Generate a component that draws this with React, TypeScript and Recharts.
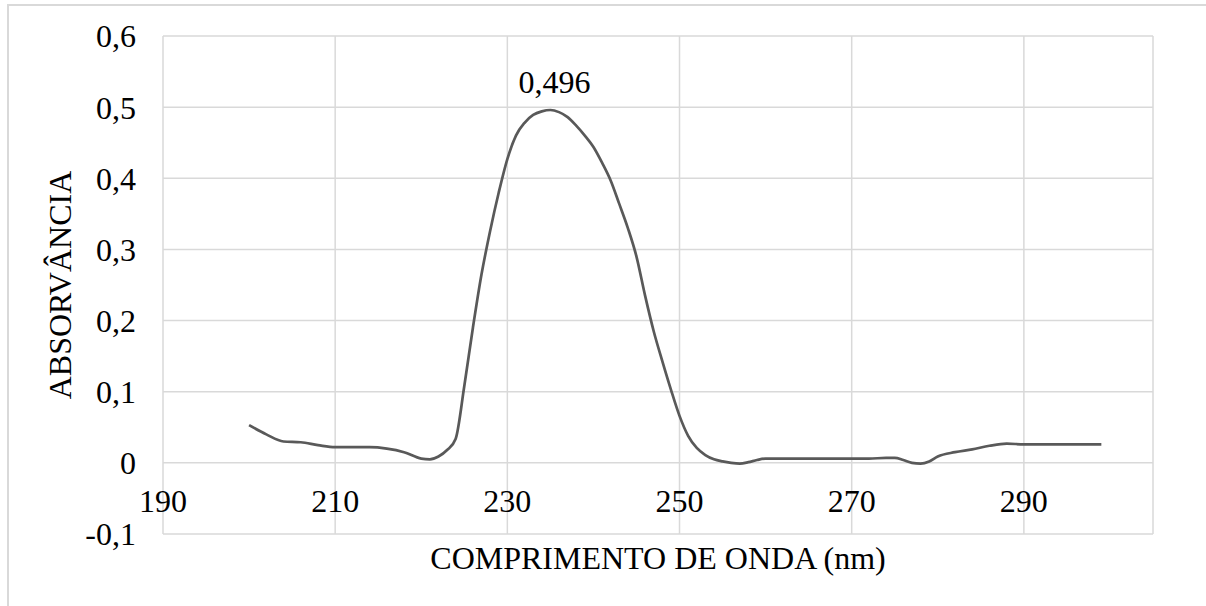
import { LineChart, Line, XAxis, YAxis, CartesianGrid, LabelList } from 'recharts';

const wavelengths = [
  200, 202, 204, 206, 208, 210, 212, 214, 216, 218, 220, 221, 222, 223, 224, 225, 226, 227, 228, 229,
  230, 231, 232, 233, 234, 235, 236, 237, 238, 239, 240, 241, 242, 243, 244, 245, 246, 247, 248, 249,
  250, 251, 252, 253, 254, 255, 256, 257, 258, 259, 260, 262, 264, 266, 268, 270, 272, 274, 275, 276,
  277, 278, 279, 280, 282, 284, 286, 288, 290, 292, 294, 296, 298, 299,
];

const absorbance = [
  0.053, 0.04, 0.03, 0.029, 0.025, 0.022, 0.022, 0.022, 0.02, 0.015, 0.006, 0.005, 0.009, 0.018, 0.034, 0.108, 0.19, 0.265, 0.326, 0.38,
  0.427, 0.46, 0.478, 0.489, 0.494, 0.496, 0.493, 0.486, 0.474, 0.46, 0.444, 0.422, 0.397, 0.364, 0.33, 0.29, 0.235, 0.185, 0.143, 0.103,
  0.066, 0.038, 0.021, 0.011, 0.005, 0.002, 0.0, -0.001, 0.001, 0.004, 0.006, 0.006, 0.006, 0.006, 0.006, 0.006, 0.006, 0.007, 0.007, 0.004,
  0.0, -0.001, 0.002, 0.009, 0.015, 0.019, 0.024, 0.027, 0.026, 0.026, 0.026, 0.026, 0.026, 0.026,
];

const xTicks = [190, 210, 230, 250, 270, 290];
const yTicks = [-0.1, 0, 0.1, 0.2, 0.3, 0.4, 0.5, 0.6];

const data = wavelengths.map((wl, i) => ({ wl, abs: absorbance[i] }));
const peak = Math.max(...absorbance);

const font = 'Liberation Serif';
const comma = (v: number) => String(v).replace('.', ',');

const XTick = ({ x, y, payload }: any) => (
  <text x={x} y={y - 22} textAnchor="middle" fill="#000" fontSize={32} fontFamily={font}>
    {payload.value}
  </text>
);

const PeakLabel = ({ x, y, value }: any) => {
  if (value !== peak) return null;
  return (
    <text x={x + 4} y={y - 17} textAnchor="middle" fill="#000" fontSize={32} fontFamily={font}>
      {comma(value)}
    </text>
  );
};

export default function App() {
  return (
    <div style={{ position: 'absolute', left: 0, top: 0, width: 1206, height: 606, overflow: 'hidden', background: '#fff' }}>
      <div style={{ position: 'absolute', left: 7, top: 4, width: 1220, height: 640, border: '2px solid #d9d9d9' }} />
      <div style={{ position: 'absolute', left: 0, top: 0 }}>
        <LineChart width={1206} height={606} data={data} margin={{ top: 36, right: 53, left: 0, bottom: 0 }}>
          <CartesianGrid stroke="#d9d9d9" strokeWidth={1.5} />
          <XAxis
            dataKey="wl"
            type="number"
            domain={[190, 305]}
            ticks={xTicks}
            height={72}
            axisLine={false}
            tickLine={false}
            tickSize={0}
            tickMargin={0}
            tick={<XTick />}
            label={{ value: 'COMPRIMENTO DE ONDA (nm)', position: 'insideTop', offset: 12, fill: '#000', fontSize: 32, fontFamily: font }}
          />
          <YAxis
            type="number"
            domain={[-0.1, 0.6]}
            ticks={yTicks}
            width={163}
            axisLine={false}
            tickLine={false}
            tickSize={0}
            tickMargin={27}
            tickFormatter={comma}
            tick={{ fill: '#000', fontSize: 32, fontFamily: font }}
            label={{ value: 'ABSORVÂNCIA', angle: -90, position: 'insideLeft', offset: 60, fill: '#000', fontSize: 32, fontFamily: font, style: { textAnchor: 'middle' } }}
          />
          <Line type="monotone" dataKey="abs" stroke="#595959" strokeWidth={2.7} dot={false} isAnimationActive={false}>
            <LabelList dataKey="abs" content={<PeakLabel />} />
          </Line>
        </LineChart>
      </div>
    </div>
  );
}
